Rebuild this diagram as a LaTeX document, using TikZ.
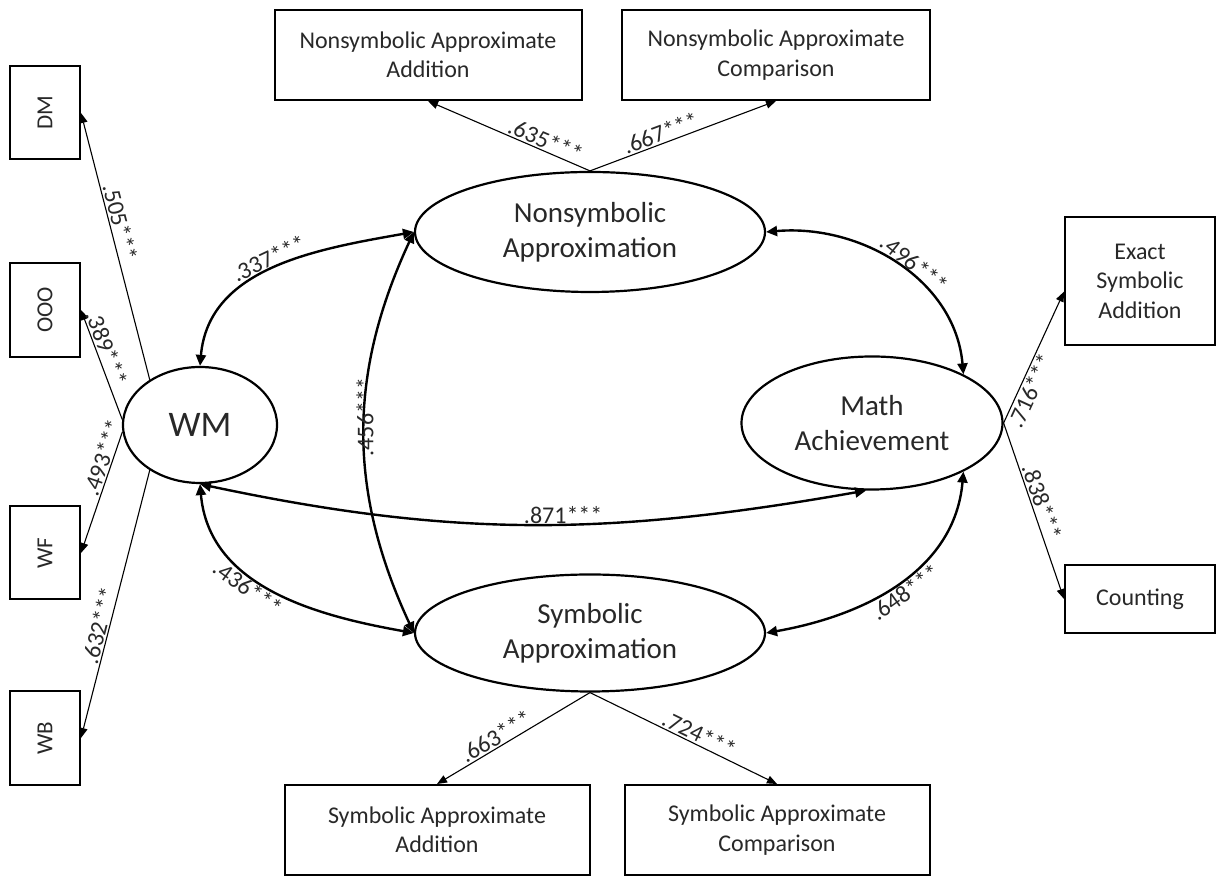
\documentclass[tikz,border=0pt]{standalone}
\usepackage{fontspec}
\setmainfont{Carlito}
\usetikzlibrary{shapes.geometric,arrows.meta}
\definecolor{txt}{RGB}{40,40,40}
\tikzset{
  obs/.style={draw, line width=2pt, rectangle, align=center, inner sep=0pt,
    font=\fontsize{24}{29.5}\selectfont, text=txt},
  side/.style={obs, minimum width=70pt, font=\fontsize{23}{27}\selectfont},
  latent/.style={draw, line width=2.2pt, ellipse, align=center, inner sep=0pt,
    font=\fontsize{29}{35}\selectfont, text=txt},
  load/.style={->, line width=1.1pt, >={Triangle[length=10pt,width=8pt]}},
  cov/.style={<->, line width=2.4pt, >={Triangle[length=11pt,width=10pt]}},
  coef/.style={font=\fontsize{24}{28}\selectfont, text=txt, inner sep=1.5pt},
}
\begin{document}
\begin{tikzpicture}[x=1pt, y=1pt]
\useasboundingbox (0,0) rectangle (1216,877);
% latent variables
\node[latent, minimum width=154pt, minimum height=116pt, font=\fontsize{36}{40}\selectfont] (WM) at (200,452) {WM};
\node[latent, minimum width=350pt, minimum height=120pt] (NA) at (590,645) {Nonsymbolic\\Approximation};
\node[latent, minimum width=350pt, minimum height=117pt] (SA) at (590,244) {Symbolic\\Approximation};
\node[latent, minimum width=261pt, minimum height=133pt] (MA) at (872,454) {Math\\Achievement};
% indicators
\node[side, minimum height=93pt] (DM) at (45,764) {\rotatebox{90}{DM}};
\node[side, minimum height=94pt] (OOO) at (45,567) {\rotatebox{90}{OOO}};
\node[side, minimum height=93pt] (WF) at (45,324) {\rotatebox{90}{WF}};
\node[side, minimum height=94pt] (WB) at (45,139) {\rotatebox{90}{WB}};
\node[obs, minimum width=307pt, minimum height=90pt] (NAA) at (428,822) {Nonsymbolic Approximate\\Addition};
\node[obs, minimum width=308pt, minimum height=90pt] (NAC) at (776,822) {Nonsymbolic Approximate\\Comparison};
\node[obs, minimum width=305pt, minimum height=90pt] (SAA) at (437,47) {Symbolic Approximate\\Addition};
\node[obs, minimum width=305pt, minimum height=90pt] (SAC) at (777,47) {Symbolic Approximate\\Comparison};
\node[obs, minimum width=150pt, minimum height=128pt] (ESA) at (1140,596) {Exact\\Symbolic\\Addition};
\node[obs, minimum width=150pt, minimum height=68pt] (CNT) at (1140,278) {Counting};
% loadings
\draw[load] (WM.138) -- node[coef, sloped, above, pos=0.58] {.505***} (DM.east);
\draw[load] (WM.176) -- node[coef, sloped, above, pos=0.62] {.389***} (OOO.east);
\draw[load] (WM.185) -- node[coef, sloped, above, pos=0.24] {.493***} (WF.east);
\draw[load] (WM.222) -- node[coef, sloped, above, pos=0.59] {.632***} (WB.east);
\draw[load] (NA.north) -- node[coef, sloped, above, pos=0.3] {.635***} (NAA.south);
\draw[load] (NA.north) -- node[coef, sloped, above, pos=0.4] {.667***} (NAC.south);
\draw[load] (SA.south) -- node[coef, sloped, above, pos=0.58] {.663***} (SAA.north);
\draw[load] (SA.south) -- node[coef, sloped, above, pos=0.56] {.724***} (SAC.north);
\draw[load] (MA.east) -- node[coef, sloped, below, pos=0.28] {.716***} (ESA.188);
\draw[load] (MA.east) -- node[coef, sloped, above, pos=0.47] {.838***} (CNT.west);
% correlations
\draw[cov] (WM.north) to[out=85, in=190] node[coef, sloped, above, pos=0.5] {.337***} (NA.west);
\draw[cov] (NA.east) to[out=5, in=95] node[coef, sloped, above, pos=0.55] {.496***} (MA.28);
\draw[cov] (WM.south) to[out=-85, in=170] node[coef, sloped, below, pos=0.42] {.436***} (SA.west);
\draw[cov] (MA.-28) to[out=-95, in=10] node[coef, sloped, below, pos=0.5] {.648***} (SA.east);
\draw[cov] (NA.west) to[out=245, in=115] node[coef, rotate=90, pos=0.45, xshift=-4pt] {.456***} (SA.west);
\draw[cov] (WM.south) to[out=-12, in=190] node[coef, anchor=south, inner sep=0pt, pos=0.55] {.871***} (MA.265);
\end{tikzpicture}
\end{document}
